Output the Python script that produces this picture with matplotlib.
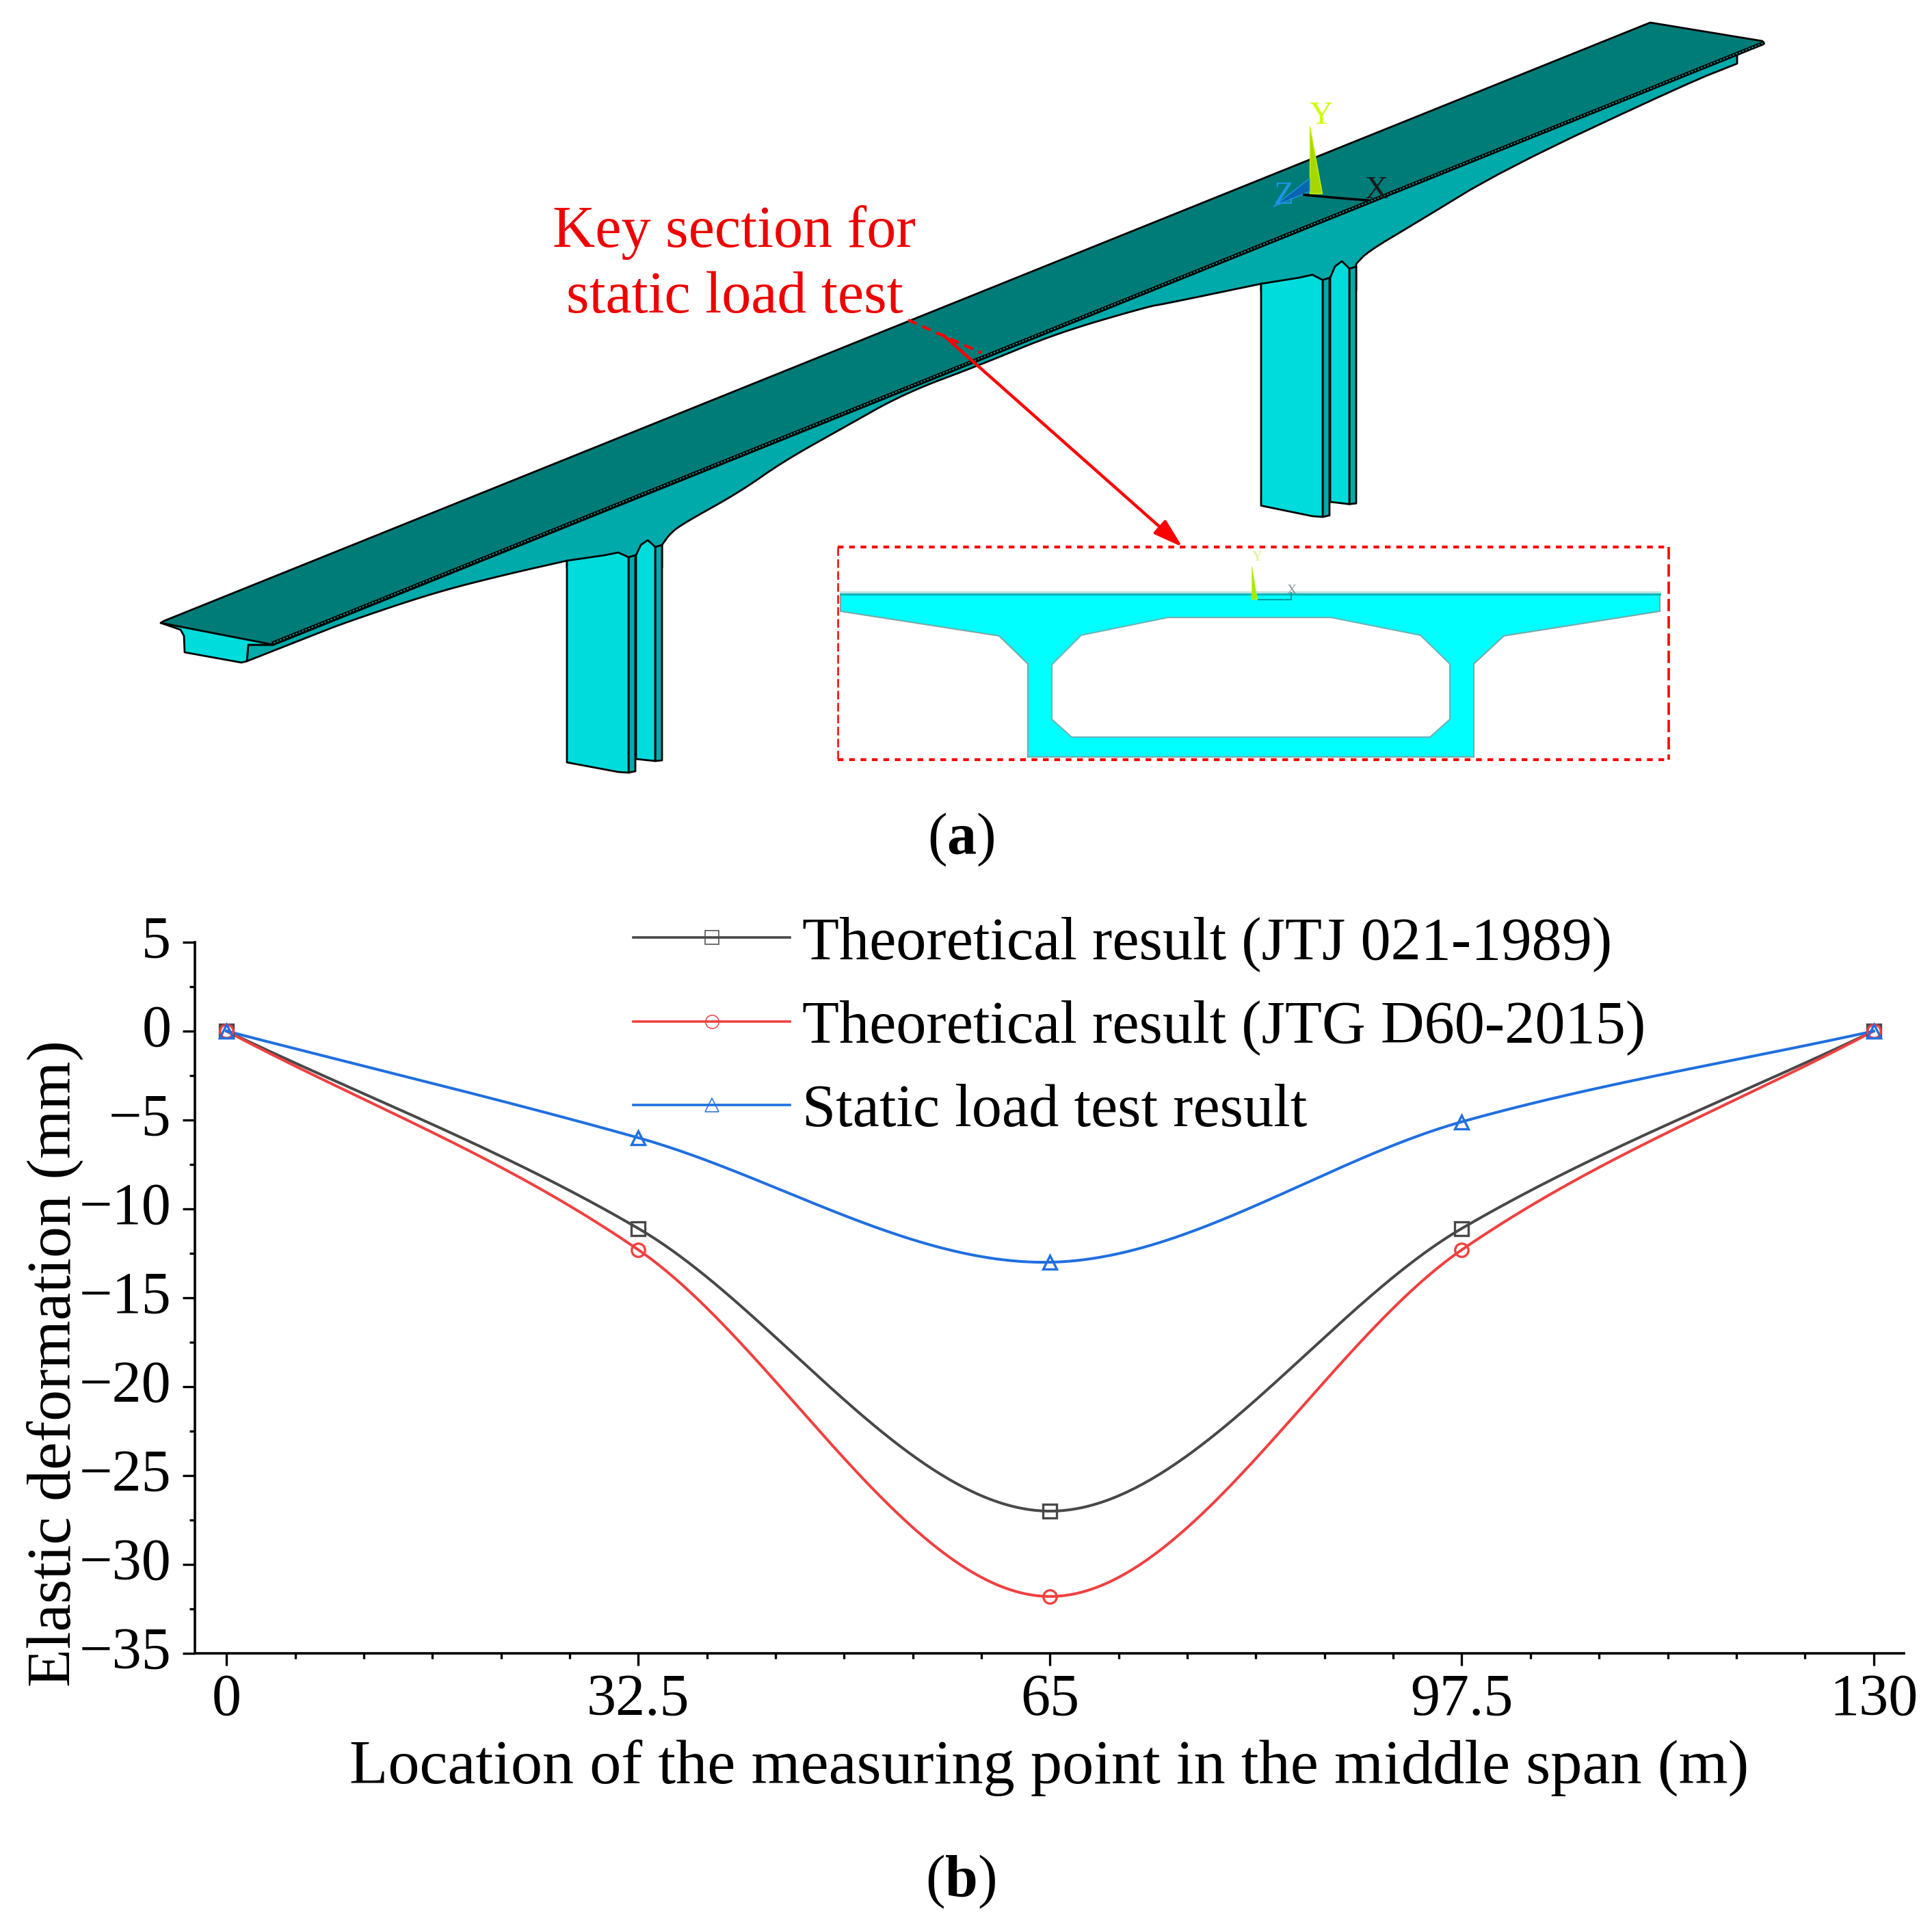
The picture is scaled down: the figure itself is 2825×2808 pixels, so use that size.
import numpy as np
import matplotlib
matplotlib.use("Agg")
import matplotlib.pyplot as plt
from matplotlib.lines import Line2D
from matplotlib.patches import Polygon, FancyArrowPatch
from matplotlib.transforms import ScaledTranslation

# ---- data ----
locations = [0, 32.5, 65, 97.5, 130]
jtj_1989 = [0, -11.1, -27.0, -11.1, 0]
jtg_2015 = [0, -12.3, -31.8, -12.3, 0]
static_test = [0, -6.0, -13.0, -5.1, 0]
x_tick_labels = ["0", "32.5", "65", "97.5", "130"]
y_ticks = [5, 0, -5, -10, -15, -20, -25, -30, -35]
series_names = ["Theoretical result (JTJ 021-1989)",
                "Theoretical result (JTG D60-2015)",
                "Static load test result"]

FS = 62
SERIF = "Liberation Serif"
plt.rcParams["font.family"] = SERIF
plt.rcParams["mathtext.fontset"] = "custom"
plt.rcParams["mathtext.rm"] = SERIF
plt.rcParams["mathtext.bf"] = SERIF + ":bold"

W, H = 2825, 2808
fig = plt.figure(figsize=(W / 100, H / 100), dpi=100, facecolor="white")

# ---- illustration canvas in pixel units ----
cv = fig.add_axes([0, 0, 1, 1])
cv.set_xlim(0, W)
cv.set_ylim(H, 0)
cv.axis("off")

DECK, WEB, PIER = "#007c78", "#00aaaa", "#00dcdc"
LW = 2.0


def poly(pts, fc, ec="black", lw=LW, z=2):
    cv.add_patch(Polygon(pts, closed=True, fc=fc, ec=ec, lw=lw, joinstyle="round", zorder=z))


def chaikin(pts, n=3):
    pts = np.asarray(pts, float)
    for _ in range(n):
        q = 0.75 * pts[:-1] + 0.25 * pts[1:]
        r = 0.25 * pts[:-1] + 0.75 * pts[1:]
        mid = np.empty((2 * len(q), 2))
        mid[0::2], mid[1::2] = q, r
        pts = np.vstack([pts[0], mid, pts[-1]])
    return [tuple(p) for p in pts]


# girder web and end: soffit curves running from right to left
soffit_right = chaikin([(2540, 93), (2467, 122), (2200, 247), (2067, 328), (2000, 368), (1983, 386)], 2)
soffit_mid = chaikin([(1844, 415), (1700, 445), (1680, 448), (1546, 487), (1435, 533), (1323, 575), (1234, 625),
                      (1145, 675), (1081, 720), (1000, 765), (980, 780), (968, 797)], 3)
soffit_left = chaikin([(829, 820), (736, 841), (634, 867), (506, 910), (455, 930), (361, 967)], 3)
web_outline = ([(2578, 62), (2540, 80)] + soffit_right + [(1983, 425), (1844, 425)] + soffit_mid
               + [(968, 830), (829, 830)] + soffit_left + [(363, 943), (399, 943), (400, 938)])
poly(web_outline, WEB)
poly([(235, 911), (264, 921), (269, 930), (270, 954), (353, 969), (361, 967), (363, 943), (399, 943),
      (400, 938)], PIER)
# deck
poly([(235, 911), (240, 908), (2413, 33), (2577, 60), (2578, 65), (400, 943)], DECK, z=3)
cv.plot([400, 2578], [940, 63], color="black", lw=3.6, zorder=4)
cv.plot([400, 2578], [940, 63], color=WEB, lw=1.2, ls=(0, (1.5, 1.5)), zorder=4)


def pier(dx, dy0, yscale):
    front = [(829, 820), (884, 812), (904, 808), (919, 815), (919, 1130), (904, 1129), (829, 1115)]
    strip = [(919, 815), (929, 812), (929, 1128), (919, 1130)]
    back_strip = [(958, 800), (968, 797), (968, 1112), (958, 1113)]
    column = [(930, 812), (937, 797), (947, 790), (955, 797), (958, 800), (958, 1113), (930, 1110)]
    for pts, c in ((strip, WEB), (back_strip, WEB), (column, PIER), (front, PIER)):
        poly([(x + dx, dy0 + (y - 820) * yscale) for x, y in pts], c)


pier(0, 820, 1.0)
pier(1015, 415, 1.1)

# global triad
poly([(1915, 185), (1915, 283), (1933, 283)], "#a6d800", ec="#c8f000", lw=1, z=5)
poly([(1915, 261), (1915, 280), (1862, 302)], "#0a64b0", ec="#1e96e6", lw=1, z=5)
cv.plot([1907, 1950, 2000], [285, 289, 293], color="black", lw=2.5, zorder=5)
for s, x, y, c in (("Y", 1932, 170, "#ccff00"), ("Z", 1877, 287, "#1e96e6"), ("X", 2013, 279, "#1a1a1a")):
    cv.text(x, y, s, color=c, fontsize=34, ha="center", va="center", zorder=6)

# callout
cv.text(1074, 340, "Key section for", color="#ee0000", fontsize=FS, ha="center", va="center", zorder=7)
cv.text(1074, 436, "static load test", color="#ee0000", fontsize=FS, ha="center", va="center", zorder=7)
cv.plot([1328, 1435], [468, 516], color="red", lw=3, ls=(0, (3.2, 2.2)), zorder=7)
cv.add_patch(FancyArrowPatch((1379, 490), (1729, 800), arrowstyle="-|>,head_length=26,head_width=8",
                             color="red", lw=3.2, shrinkA=0, shrinkB=0, mutation_scale=1, zorder=7))

# section inset
for xs_, ys_, lw_, dash in (([1225, 2440], [800, 800], 3, (2, 2)), ([1225, 2440], [1111, 1111], 3, (2, 2)),
                            ([1225, 1225], [800, 1111], 1.8, (5, 2)), ([2440, 2440], [800, 1111], 2.6, (5, 2))):
    cv.plot(xs_, ys_, color="red", lw=lw_, ls=(0, dash), zorder=7)
section = [(1229, 866), (2427, 866), (2427, 894), (2199, 930), (2155, 971), (2155, 1107), (1503, 1107),
           (1503, 971), (1461, 930), (1229, 894)]
cv.add_patch(Polygon(section, closed=True, fc="#00ffff", ec="#78a8a8", lw=1.5, zorder=2))
void = [(1708, 903), (1946, 903), (2077, 929), (2120, 971), (2120, 1052), (2091, 1078), (1567, 1078),
        (1538, 1052), (1538, 972), (1581, 929)]
cv.add_patch(Polygon(void, closed=True, fc="white", ec="#6cb4b4", lw=1.5, zorder=3))
cv.plot([1229, 2427], [869, 869], color="#0cb0b0", lw=2, zorder=4)
cv.plot([1229, 2427], [866, 866], color="#bfe2e2", lw=2, zorder=4)
poly([(1830, 827), (1830, 876), (1838, 876)], "#a8e800", ec="#c8f040", lw=0.5, z=5)
cv.plot([1840, 1888, 1888], [877, 877, 867], color="#00a0a0", lw=1.5, zorder=5)
cv.text(1838, 816, "Y", color="#d8f080", fontsize=15, ha="center", va="center", zorder=5)
cv.text(1889, 864, "X", color="#889999", fontsize=14, ha="center", va="center", zorder=5)

cv.text(1405, 1228, r"($\mathbf{a}$)", fontsize=FS, ha="center", va="center")
cv.text(1405, 2752, r"($\mathbf{b}$)", fontsize=FS, ha="center", va="center")

# ---- line chart ----
L, R, T, B = 285, 2784, 1378, 2418
ax = fig.add_axes([L / W, 1 - B / H, (R - L) / W, (B - T) / H])
ax.patch.set_alpha(0)


def smooth_curve(x, y, n=400):
    """Cubic Hermite curve through the points, tangents from neighbouring points."""
    x, y = np.asarray(x, float), np.asarray(y, float)
    t = np.gradient(y, x)
    xs = np.linspace(x[0], x[-1], n)
    k = np.clip(np.searchsorted(x, xs) - 1, 0, len(x) - 2)
    h = x[k + 1] - x[k]
    u = (xs - x[k]) / h
    return xs, ((2 * u**3 - 3 * u**2 + 1) * y[k] + (u**3 - 2 * u**2 + u) * h * t[k]
                + (-2 * u**3 + 3 * u**2) * y[k + 1] + (u**3 - u**2) * h * t[k + 1])


styles = [("#484848", "s", jtj_1989), ("#f04040", "o", jtg_2015), ("#1f6fe0", "^", static_test)]
handles = []
for (col, mk, vals), name in zip(styles, series_names):
    xs, ys = smooth_curve(locations, vals)
    ax.plot(xs, ys, color=col, lw=2.9, zorder=3)
    ax.plot(locations, vals, ls="none", marker=mk, ms=14, mfc="none", mec=col, mew=2.4, zorder=4)
    handles.append(Line2D([], [], color=col, lw=2.6, marker=mk, ms=14, mfc="none", mec=col, mew=1.1, label=name))

ax.set_xlim(-2.5, 132.4)
ax.set_ylim(-35, 5)
ax.set_xticks(locations, x_tick_labels)
ax.set_xticks(np.arange(0, 130.01, 32.5 / 6), minor=True)
ax.set_yticks(y_ticks, [str(v).replace("-", "\u2212") for v in y_ticks])
ax.set_yticks(np.arange(-35, 5.01, 2.5), minor=True)
for s in ("top", "right"):
    ax.spines[s].set_visible(False)
for s in ("left", "bottom"):
    ax.spines[s].set_linewidth(2.6)
ax.tick_params(which="major", length=13, width=2.4, labelsize=FS, pad=8)
ax.tick_params(which="minor", length=6, width=2.4)
ax.tick_params(axis="y", which="major", pad=12)
for lab in ax.get_yticklabels():
    lab.set_transform(lab.get_transform() + ScaledTranslation(0, 0.09, fig.dpi_scale_trans))
ax.set_xlabel("Location of the measuring point in the middle span (m)", fontsize=66.5, va="baseline")
ax.xaxis.set_label_coords(0.4998, -0.1827)
ax.set_ylabel("Elastic deformation (mm)", fontsize=66, va="center")
ax.yaxis.set_label_coords(-0.082, 0.408)
ax.legend(handles=handles, loc="upper left", bbox_to_anchor=(926 / W, 1 - 1340 / H),
          bbox_transform=fig.transFigure, frameon=False, fontsize=63.5, borderpad=0, borderaxespad=0,
          handlelength=2.6, handletextpad=0.2, labelspacing=0.47, numpoints=1)

fig.savefig("out.png", dpi=100, facecolor="white")
